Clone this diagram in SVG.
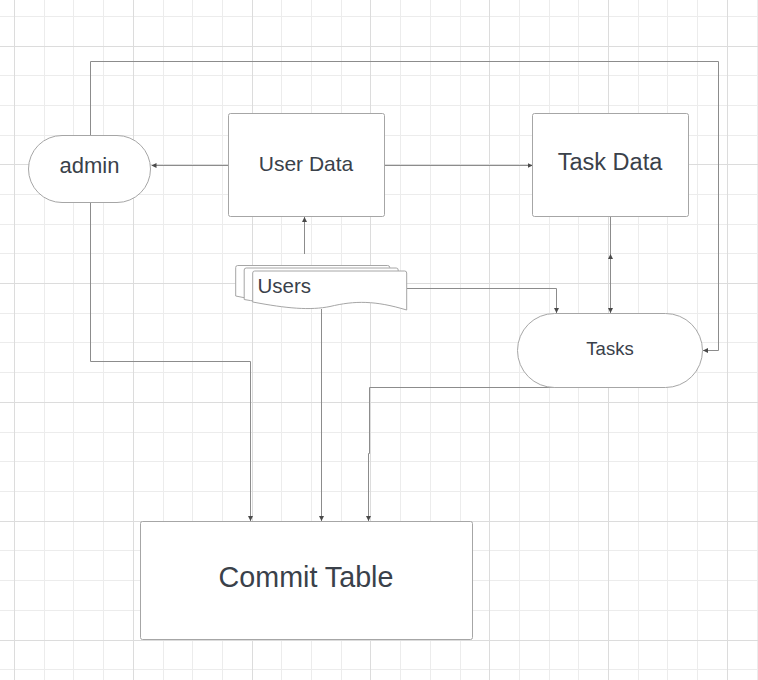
<svg xmlns="http://www.w3.org/2000/svg" width="758" height="680" viewBox="0 0 758 680">
<defs>
<style>
.minor{stroke:#ececec;stroke-width:1;fill:none}
.major{stroke:#dcdcdc;stroke-width:1;fill:none}
.node{fill:#ffffff;stroke:#a6a6a6;stroke-width:1}
.lbl{font-family:"Liberation Sans",Arial,sans-serif;fill:#3a414a;text-anchor:middle}
.conn{fill:none;stroke:#8c8c8c;stroke-width:1}
</style>
<marker id="ah" viewBox="0 0 10 10" refX="10" refY="5" markerWidth="5" markerHeight="5" orient="auto" markerUnits="userSpaceOnUse">
<path d="M0,0 L10,5 L0,10 z" fill="#4a4a4a"/>
</marker>
</defs>
<rect width="758" height="680" fill="#ffffff"/>
<g id="grid">
<path class="minor" d="M44.5,0V680M73.5,0V680M103.5,0V680M163.5,0V680M192.5,0V680M222.5,0V680M281.5,0V680M311.5,0V680M341.5,0V680M400.5,0V680M430.5,0V680M460.5,0V680M519.5,0V680M549.5,0V680M578.5,0V680M638.5,0V680M667.5,0V680M697.5,0V680M757.5,0V680M0,16.5H758M0,75.5H758M0,105.5H758M0,135.5H758M0,194.5H758M0,224.5H758M0,253.5H758M0,313.5H758M0,342.5H758M0,372.5H758M0,432.5H758M0,461.5H758M0,491.5H758M0,550.5H758M0,580.5H758M0,610.5H758M0,669.5H758"/>
<path class="major" d="M14.5,0V680M133.5,0V680M252.5,0V680M370.5,0V680M489.5,0V680M608.5,0V680M727.5,0V680M0,46.5H758M0,164.5H758M0,283.5H758M0,402.5H758M0,521.5H758M0,640.5H758"/>
</g>
<g id="connectors">
<path class="conn" d="M228.5,165.5H151.5" marker-end="url(#ah)"/>
<path class="conn" d="M384.5,165.5H532.5" marker-end="url(#ah)"/>
<path class="conn" d="M304.5,254V217" marker-end="url(#ah)"/>
<path class="conn" d="M407,288.5H556.5V313" marker-end="url(#ah)"/>
<path class="conn" d="M610.5,217V313" marker-end="url(#ah)"/>
<path class="conn" d="M610.5,300V254" marker-end="url(#ah)"/>
<path class="conn" d="M90.5,135V61.5H718.5V350.5H703" marker-end="url(#ah)"/>
<path class="conn" d="M90.5,202V361.5H250.5V521" marker-end="url(#ah)"/>
<path class="conn" d="M321.5,309V521" marker-end="url(#ah)"/>
<path class="conn" d="M611,387.5H369.5V453.5H368.5V521" marker-end="url(#ah)"/>
</g>
<g id="admin">
<rect class="node" x="28.5" y="135.5" width="122" height="67" rx="33.5"/>
<text class="lbl" x="89.5" y="173" font-size="22">admin</text>
</g>
<g id="user-data">
<rect class="node" x="228.5" y="113.5" width="156" height="103" rx="2"/>
<text class="lbl" x="306" y="171" font-size="21">User Data</text>
</g>
<g id="task-data">
<rect class="node" x="532.5" y="113.5" width="156" height="103" rx="2"/>
<text class="lbl" x="610" y="170" font-size="23.5">Task Data</text>
</g>
<g id="tasks">
<rect class="node" x="517.5" y="313.5" width="185" height="74" rx="37"/>
<text class="lbl" x="610" y="355" font-size="18.5">Tasks</text>
</g>
<g id="users">
<path class="node" d="M235.7,267.5Q235.7,265.5 237.7,265.5H387.7Q389.7,265.5 389.7,267.5V304.5C358,295 338,295 313,301C293,305 270,303 235.7,296Z"/>
<path class="node" d="M244.2,270Q244.2,268 246.2,268H396.2Q398.2,268 398.2,270V307C366,297.5 346,297.5 321.5,303.5C301.5,307.5 278.5,305.5 244.2,299.5Z"/>
<path class="node" d="M252.7,273Q252.7,271 254.7,271H404.7Q406.7,271 406.7,273V310C375,300.5 355,300.5 330,306.5C310,310.5 287,308.5 252.7,302Z"/>
<text class="lbl" x="257.5" y="292.5" font-size="20.5" style="text-anchor:start">Users</text>
</g>
<g id="commit-table">
<rect class="node" x="140.5" y="521.5" width="332" height="118" rx="2"/>
<text class="lbl" x="306" y="587" font-size="28.7">Commit Table</text>
</g>
</svg>
